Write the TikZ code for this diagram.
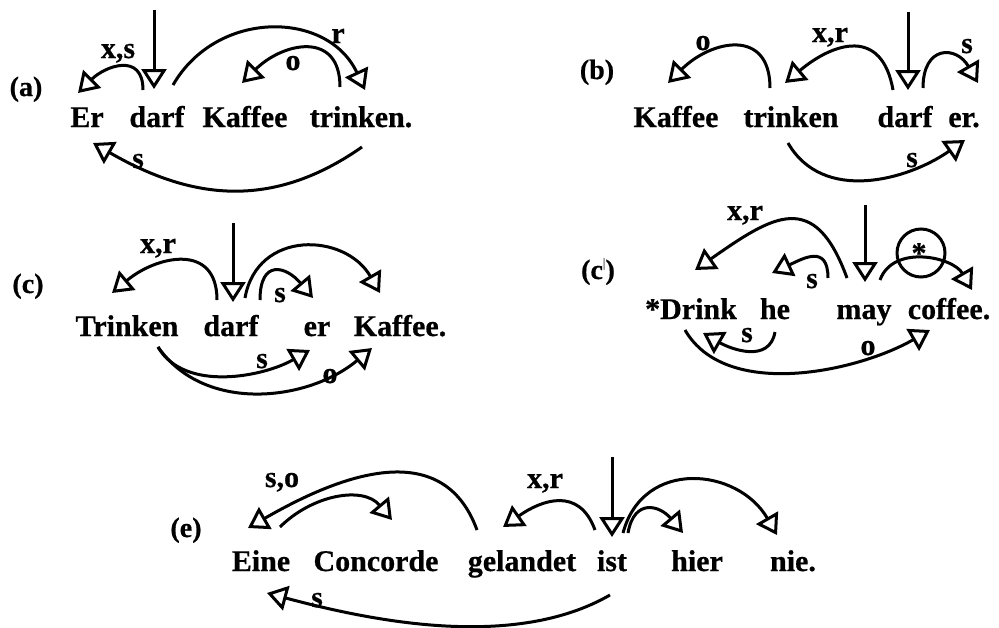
\documentclass[tikz,border=0pt]{standalone}
\usepackage{fontspec}
\setmainfont{Liberation Serif}[BoldFeatures={FakeBold=0.6}]
\usetikzlibrary{arrows.meta}
\begin{document}
\begin{tikzpicture}[x=1pt,y=1pt,
  word/.style={font=\fontsize{30}{36}\selectfont\bfseries, inner sep=0pt, anchor=base},
  tag/.style={font=\fontsize{28}{34}\selectfont\bfseries, inner sep=0pt, anchor=base},
  dep/.style={line width=3pt, -{Triangle[open,length=20pt,width=25pt]}},
  ring/.style={line width=3pt},
]
\useasboundingbox (0,0) rectangle (999,-627);

% ---------- (a) ----------
\node[tag]  (a-lab) at (26,-96) {(a)};
\node[word] (a-er)  at (87,-127)  {Er};
\node[word] (a-darf) at (157,-127) {darf};
\node[word] (a-kaf) at (245,-127) {Kaffee};
\node[word] (a-tri) at (361,-127) {trinken.};
\coordinate (a-top) at (154,-10);
\coordinate (a-in)  at (154,-89);
\coordinate (a-xs0) at (143,-90);  \coordinate (a-xs1) at (78,-93);
\coordinate (a-r0)  at (173,-85);  \coordinate (a-r1)  at (365,-90);
\coordinate (a-o0)  at (340,-87);  \coordinate (a-o1)  at (242,-83);
\coordinate (a-s0)  at (362,-147); \coordinate (a-s1)  at (93,-143);
\draw[dep] (a-top) -- (a-in);
\draw[dep] (a-xs0) to[out=90,in=45,looseness=1.5] (a-xs1);
\draw[dep] (a-r0) to[out=60,in=115,looseness=1.17] (a-r1);
\draw[dep] (a-o0) to[out=90,in=45,looseness=1.49] (a-o1);
\draw[dep] (a-s0) to[out=-145,in=-30,looseness=1.06] (a-s1);
\node[word] (a-lxs) at (118,-58) {x,s};
\node[word] (a-lr)  at (338,-43) {r};
\node[word] (a-lo)  at (293,-70) {o};
\node[word] (a-ls)  at (138,-168) {s};

% ---------- (b) ----------
\node[tag]  (b-lab) at (597,-79) {(b)};
\node[word] (b-kaf) at (676,-127) {Kaffee};
\node[word] (b-tri) at (791,-127) {trinken};
\node[word] (b-darf) at (905,-127) {darf};
\node[word] (b-er)  at (964,-127) {er.};
\coordinate (b-top) at (908,-12);
\coordinate (b-in)  at (908,-90);
\coordinate (b-o0)  at (770,-88);  \coordinate (b-o1)  at (668,-83);
\coordinate (b-xr0) at (893,-90);  \coordinate (b-xr1) at (785,-83);
\coordinate (b-s0)  at (923,-88);  \coordinate (b-s1)  at (978,-83);
\coordinate (b-t0)  at (788,-143); \coordinate (b-t1)  at (965,-140);
\draw[dep] (b-top) -- (b-in);
\draw[dep] (b-o0) to[out=90,in=45,looseness=1.52] (b-o1);
\draw[dep] (b-xr0) to[out=100,in=40,looseness=1.51] (b-xr1);
\draw[dep] (b-s0) to[out=90,in=120,looseness=2.0] (b-s1);
\draw[dep] (b-t0) to[out=-60,in=-145,looseness=1.01] (b-t1);
\node[word] (b-lo)  at (703,-50) {o};
\node[word] (b-lxr) at (830,-42) {x,r};
\node[word] (b-ls)  at (967,-53) {s};
\node[word] (b-lt)  at (912,-167) {s};

% ---------- (c) ----------
\node[tag]  (c-lab) at (28,-293) {(c)};
\node[word] (c-tri) at (127,-336) {Trinken};
\node[word] (c-darf) at (231,-336) {darf};
\node[word] (c-er)  at (317,-336) {er};
\node[word] (c-kaf) at (400,-336) {Kaffee.};
\coordinate (c-top) at (233,-223);
\coordinate (c-in)  at (233,-302);
\coordinate (c-xr0) at (217,-300); \coordinate (c-xr1) at (112,-293);
\coordinate (c-k0)  at (245,-298); \coordinate (c-k1)  at (380,-293);
\coordinate (c-s0)  at (260,-300); \coordinate (c-s1)  at (313,-298);
\coordinate (c-b0)  at (158,-347);
\coordinate (c-bs1) at (310,-350); \coordinate (c-bo1) at (372,-348);
\draw[dep] (c-top) -- (c-in);
\draw[dep] (c-xr0) to[out=90,in=40,looseness=1.41] (c-xr1);
\draw[dep] (c-k0) to[out=80,in=120,looseness=1.32] (c-k1);
\draw[dep] (c-s0) to[out=90,in=130,looseness=2.0] (c-s1);
\draw[dep] (c-b0) to[out=-60,in=-150,looseness=0.89] (c-bs1);
\draw[dep] (c-b0) to[out=-55,in=-140,looseness=0.98] (c-bo1);
\node[word] (c-lxr) at (158,-253) {x,r};
\node[word] (c-ls)  at (280,-302) {s};
\node[word] (c-lbs) at (262,-368) {s};
\node[word] (c-lbo) at (330,-383) {o};

% ---------- (c') ----------
\node[tag]  (d-lab) at (598,-279) {(c\raisebox{0.42em}{\fontsize{13}{13}\selectfont\mdseries|})};
\node[word] (d-dri) at (691,-319) {*Drink};
\node[word] (d-he)  at (775,-319) {he};
\node[word] (d-may) at (864,-319) {may};
\node[word] (d-cof) at (949,-319) {coffee.};
\coordinate (d-top) at (865,-205);
\coordinate (d-in)  at (865,-282);
\coordinate (d-xr0) at (847,-278); \coordinate (d-xr1) at (695,-270);
\coordinate (d-s0)  at (828,-278); \coordinate (d-s1)  at (772,-273);
\coordinate (d-c0)  at (880,-280); \coordinate (d-c1)  at (972,-290);
\coordinate (d-t0)  at (775,-332); \coordinate (d-t1)  at (703,-333);
\coordinate (d-o0)  at (685,-330); \coordinate (d-o1)  at (930,-330);
\coordinate (d-ring) at (921,-253);
\draw[dep] (d-top) -- (d-in);
\draw[dep] (d-xr0) to[out=110,in=35,looseness=1.6] (d-xr1);
\draw[dep] (d-s0) to[out=90,in=25,looseness=1.55] (d-s1);
\draw[dep] (d-c0) to[out=70,in=120,looseness=1.06] (d-c1);
\draw[dep] (d-t0) to[out=-100,in=-30,looseness=1.14] (d-t1);
\draw[dep] (d-o0) to[out=-60,in=-150,looseness=0.86] (d-o1);
\draw[ring] (d-ring) circle[radius=24];
\node[word] (d-star) at (919,-263) {*};
\node[word] (d-lxr) at (745,-220) {x,r};
\node[word] (d-ls)  at (812,-288) {s};
\node[word] (d-lt)  at (747,-342) {s};
\node[word] (d-lo)  at (868,-355) {o};

% ---------- (e) ----------
\node[tag]  (e-lab) at (186,-537) {(e)};
\node[word] (e-eine) at (261,-571) {Eine};
\node[word] (e-con)  at (376,-571) {Concorde};
\node[word] (e-gel)  at (522,-571) {gelandet};
\node[word] (e-ist)  at (612,-571) {ist};
\node[word] (e-hier) at (697,-571) {hier};
\node[word] (e-nie)  at (793,-571) {nie.};
\coordinate (e-top) at (612,-457);
\coordinate (e-in)  at (612,-537);
\coordinate (e-so0) at (477,-530); \coordinate (e-so1) at (248,-528);
\coordinate (e-ec0) at (280,-527); \coordinate (e-ec1) at (392,-520);
\coordinate (e-xr0) at (595,-530); \coordinate (e-xr1) at (503,-527);
\coordinate (e-h0)  at (628,-533); \coordinate (e-h1)  at (683,-533);
\coordinate (e-n0)  at (623,-533); \coordinate (e-n1)  at (777,-535);
\coordinate (e-s0)  at (610,-595); \coordinate (e-s1)  at (267,-593);
\draw[dep] (e-top) -- (e-in);
\draw[dep] (e-so0) to[out=110,in=30,looseness=1.14] (e-so1);
\draw[dep] (e-ec0) to[out=45,in=130,looseness=1.03] (e-ec1);
\draw[dep] (e-xr0) to[out=110,in=35,looseness=1.3] (e-xr1);
\draw[dep] (e-h0) to[out=80,in=130,looseness=1.67] (e-h1);
\draw[dep] (e-n0) to[out=75,in=120,looseness=1.29] (e-n1);
\draw[dep] (e-s0) to[out=-150,in=-15,looseness=0.82] (e-s1);
\node[word] (e-lso) at (282,-487) {s,o};
\node[word] (e-lxr) at (545,-488) {x,r};
\node[word] (e-ls)  at (317,-607) {s};
\end{tikzpicture}
\end{document}
